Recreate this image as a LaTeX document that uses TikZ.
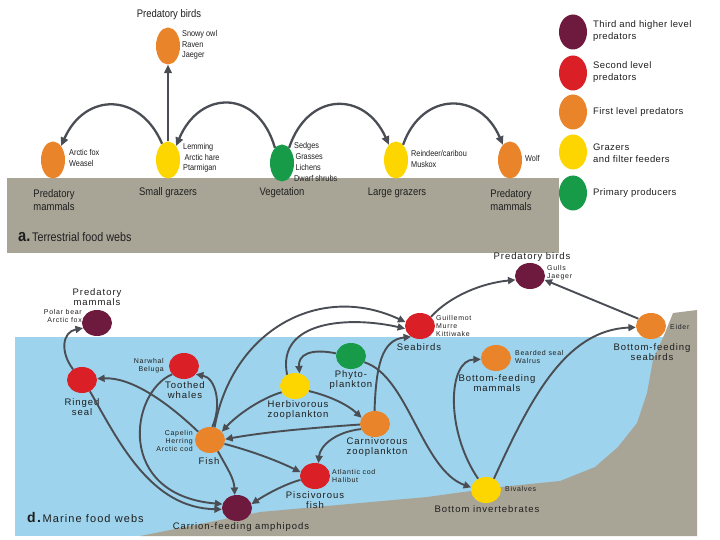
\documentclass[tikz,border=0pt]{standalone}
\usepackage{fontspec}
\setmainfont{Liberation Sans}
\newfontfamily\dryfont{Liberation Sans}[FakeStretch=0.86]
\newfontfamily\wetfont{Liberation Sans}[LetterSpace=10]
\newfontfamily\keyfont{Liberation Sans}[LetterSpace=4]
\usetikzlibrary{shapes.geometric,arrows.meta}
\definecolor{lvthree}{HTML}{6E1A3E}
\definecolor{lvtwo}{HTML}{DA1F26}
\definecolor{lvone}{HTML}{E9842A}
\definecolor{graz}{HTML}{FDD600}
\definecolor{prim}{HTML}{179B48}
\definecolor{soil}{HTML}{A8A597}
\definecolor{sea}{HTML}{9DD3EC}
\definecolor{arrc}{HTML}{4A4E54}
\definecolor{txt}{HTML}{1E1E1E}
\tikzset{
  sp/.style={ellipse,inner sep=0pt,minimum width=24pt,minimum height=37pt},
  msp/.style={ellipse,inner sep=0pt,minimum width=30pt,minimum height=26pt},
  keysp/.style={ellipse,inner sep=0pt,minimum width=28pt,minimum height=35pt},
  eat/.style={draw=arrc,line width=2.3pt,-{Triangle[length=8.5pt,width=7.5pt]}},
  meat/.style={draw=arrc,line width=1.9pt,-{Triangle[length=7.5pt,width=7pt]}},
  dlbl/.style={font=\dryfont\fontsize{11}{13}\selectfont,text=txt,align=left,inner sep=0pt},
  dslbl/.style={font=\dryfont\fontsize{8.5}{10.8}\selectfont,text=txt,align=left,inner sep=0pt},
  mlbl/.style={font=\wetfont\fontsize{9.5}{9.5}\selectfont,text=txt,align=center,inner sep=0pt},
  mslbl/.style={font=\wetfont\fontsize{7}{8.3}\selectfont,text=txt,inner sep=0pt},
  keylbl/.style={font=\keyfont\fontsize{9.5}{12.5}\selectfont,text=txt,align=left,inner sep=0pt,anchor=west},
}
\begin{document}
\begin{tikzpicture}[x=1pt,y=-1pt]
  \useasboundingbox (0,0) rectangle (720,540);
  % ground strips and sea
  \fill[soil] (7,178) rectangle (559,253);
  \fill[sea] (15,337) rectangle (697,536);
  \fill[soil] (140,536) -- (260,512) -- (427,497) -- (500,487) -- (560,481) -- (595,467)
    -- (618,447) -- (637,423) -- (647,393) -- (653,360) -- (665,333) -- (673,313)
    -- (697,310) -- (697,536) -- cycle;

  % a. terrestrial web
  \node[sp,fill=lvone] (pmL) at (53,160) {};
  \node[sp,fill=graz] (sgr) at (168,160) {};
  \node[sp,fill=prim] (veg) at (282,163) {};
  \node[sp,fill=graz] (lgr) at (396,160) {};
  \node[sp,fill=lvone] (pmR) at (510,160) {};
  \node[sp,fill=lvone] (pbird) at (168,46) {};
  \node[dlbl,anchor=center] (pbirdT) at (169,15) {Predatory birds};
  \node[dslbl,anchor=west] (pbirdS) at (182,45) {Snowy owl\\ Raven\\ Jaeger};
  \node[dslbl,anchor=west] (pmLS) at (69,158) {Arctic fox\\ Weasel};
  \node[dslbl,anchor=west] (sgrS) at (183,158) {Lemming\\ \,Arctic hare\\ Ptarmigan};
  \node[dslbl,anchor=west] (vegS) at (294,162) {Sedges\\ \,Grasses\\ \,Lichens\\ Dwarf shrubs};
  \node[dslbl,anchor=west] (lgrS) at (411,159) {Reindeer/caribou\\ Muskox};
  \node[dslbl,anchor=west] (pmRS) at (525,158) {Wolf};
  \node[dlbl] (pmLT) at (54,200) {Predatory\\ mammals};
  \node[dlbl] (sgrT) at (168,193) {Small grazers};
  \node[dlbl] (vegT) at (282,193) {Vegetation};
  \node[dlbl] (lgrT) at (397,193) {Large grazers};
  \node[dlbl] (pmRT) at (511,200) {Predatory\\ mammals};
  \node[dlbl,anchor=west] (terr) at (18,237)
    {{\fontsize{17}{17}\selectfont\bfseries a.}\,{\fontsize{12.5}{13}\selectfont Terrestrial food webs}};
  \draw[eat] (sgr.north) -- (pbird.south);
  \draw[eat] (sgr.110) .. controls (140,92) and (85,92) .. (pmL.60);
  \draw[eat] (veg.115) .. controls (258,89) and (200,89) .. (sgr.60);
  \draw[eat] (veg.65) .. controls (308,91) and (365,91) .. (lgr.115);
  \draw[eat] (lgr.65) .. controls (422,91) and (480,91) .. (pmR.115);

  % key
  \node[keysp,fill=lvthree] (k3) at (573,32) {};
  \node[keysp,fill=lvtwo] (k2) at (573,73) {};
  \node[keysp,fill=lvone] (k1) at (573,112) {};
  \node[keysp,fill=graz] (kg) at (573,152) {};
  \node[keysp,fill=prim] (kp) at (573,193) {};
  \node[keylbl] (k3T) at (593,31) {Third and higher level\\ predators};
  \node[keylbl] (k2T) at (593,72) {Second level\\ predators};
  \node[keylbl] (k1T) at (593,112) {First level predators};
  \node[keylbl] (kgT) at (593,153) {Grazers\\ and filter feeders};
  \node[keylbl] (kpT) at (593,193) {Primary producers};

  % d. marine web
  \node[msp,fill=lvthree] (pmam) at (97,323) {};
  \node[msp,fill=lvtwo] (rseal) at (82,380) {};
  \node[msp,fill=lvtwo] (twhale) at (184,366) {};
  \node[msp,fill=lvone] (fish) at (210,440) {};
  \node[msp,fill=lvthree] (amph) at (237,508) {};
  \node[msp,fill=graz] (hzoo) at (295,386) {};
  \node[msp,fill=prim] (phyto) at (351,356) {};
  \node[msp,fill=lvtwo] (sbird) at (420,326) {};
  \node[msp,fill=lvone] (czoo) at (375,424) {};
  \node[msp,fill=lvtwo] (pfish) at (315,476) {};
  \node[msp,fill=graz] (binv) at (486,490) {};
  \node[msp,fill=lvone] (bfmam) at (496,358) {};
  \node[msp,fill=lvone] (bfbird) at (651,326) {};
  \node[msp,fill=lvthree] (pbirdM) at (530,276) {};

  \node[mlbl] (pmamT) at (97,297) {Predatory\\ mammals};
  \node[mslbl,anchor=east,align=right] (pmamS) at (82,316) {Polar bear\\ Arctic fox};
  \node[mlbl] (rsealT) at (82,407) {Ringed\\ seal};
  \node[mslbl,anchor=east,align=right] (twhaleS) at (164,366) {Narwhal\\ Beluga};
  \node[mlbl] (twhaleT) at (185,390) {Toothed\\ whales};
  \node[mslbl,anchor=east,align=right] (fishS) at (193,441) {Capelin\\ Herring\\ Arctic cod};
  \node[mlbl] (fishT) at (209,461) {Fish};
  \node[mlbl] (amphT) at (241,527) {Carrion-feeding amphipods};
  \node[mlbl] (hzooT) at (298,410) {Herbivorous\\ zooplankton};
  \node[mlbl] (phytoT) at (351,380) {Phyto-\\ plankton};
  \node[mlbl] (sbirdT) at (419,347) {Seabirds};
  \node[mslbl,anchor=west,align=left] (sbirdS) at (436,326) {Guillemot\\ Murre\\ Kittiwake};
  \node[mlbl] (czooT) at (377,447) {Carnivorous\\ zooplankton};
  \node[mslbl,anchor=west,align=left] (pfishS) at (332,476) {Atlantic cod\\ Halibut};
  \node[mlbl] (pfishT) at (315,500) {Piscivorous\\ fish};
  \node[mslbl,anchor=west] (binvS) at (505,489) {Bivalves};
  \node[mlbl] (binvT) at (487,509) {Bottom invertebrates};
  \node[mslbl,anchor=west,align=left] (bfmamS) at (515,357) {Bearded seal\\ Walrus};
  \node[mlbl] (bfmamT) at (497,383) {Bottom-feeding\\ mammals};
  \node[mslbl,anchor=west] (bfbirdS) at (670,327) {Eider};
  \node[mlbl] (bfbirdT) at (652,352) {Bottom-feeding\\ seabirds};
  \node[mlbl] (pbirdMT) at (532,257) {Predatory birds};
  \node[mslbl,anchor=west,align=left] (pbirdMS) at (547,273) {Gulls\\ Jaeger};
  \node[mlbl,anchor=west] (marine) at (27,517)
    {{\fontsize{14}{14}\selectfont\bfseries d.}\,{\fontsize{11}{12}\selectfont Marine food webs}};

  \draw[meat] (rseal.130) .. controls (60,352) and (62,332) .. (pmam.200);
  \draw[meat] (fish.145) .. controls (165,400) and (130,377) .. (rseal.5);
  \draw[meat] (fish.80) .. controls (222,405) and (216,378) .. (twhale.-35);
  \draw[meat] (twhale.215) .. controls (130,392) and (115,495) .. (amph.165);
  \draw[meat] (rseal.-55) .. controls (118,440) and (150,508) .. (amph.185);
  \draw[meat] (fish.-55) .. controls (227,468) and (234,478) .. (amph.100);
  \draw[meat] (pfish.195) .. controls (285,484) and (265,495) .. (amph.15);
  \draw[meat] (fish.-15) .. controls (255,452) and (280,462) .. (pfish.165);
  \draw[meat] (czoo.182) .. controls (310,428) and (265,432) .. (fish.3);
  \draw[meat] (hzoo.205) .. controls (262,398) and (238,414) .. (fish.35);
  \draw[meat] (fish.70) .. controls (232,330) and (320,282) .. (sbird.165);
  \draw[meat] (hzoo.125) .. controls (276,320) and (350,316) .. (sbird.190);
  \draw[meat] (czoo.92) .. controls (376,365) and (382,340) .. (sbird.-130);
  \draw[meat] (hzoo.-20) .. controls (330,396) and (348,405) .. (czoo.155);
  \draw[meat] (czoo.200) .. controls (335,432) and (320,446) .. (pfish.75);
  \draw[meat] (phyto.170) .. controls (310,348) and (298,355) .. (hzoo.70);
  \draw[meat] (phyto.-25) .. controls (408,376) and (422,470) .. (binv.170);
  \draw[meat] (binv.125) .. controls (445,430) and (448,360) .. (bfmam.185);
  \draw[meat] (binv.55) .. controls (530,400) and (565,330) .. (bfbird.185);
  \draw[meat] (sbird.40) .. controls (450,296) and (482,283) .. (pbirdM.195);
  \draw[meat] (bfbird.150) -- (pbirdM.-15);
\end{tikzpicture}
\end{document}
